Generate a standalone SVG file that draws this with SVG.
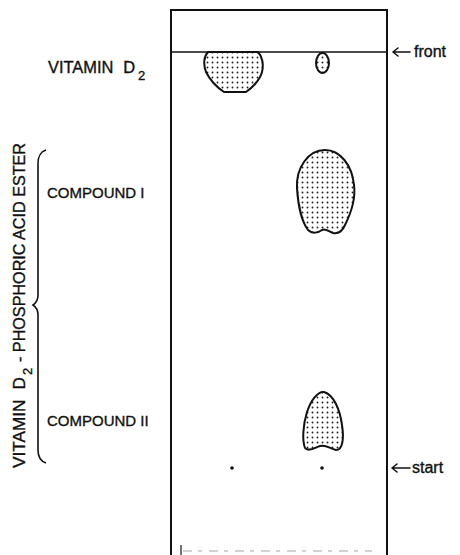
<svg xmlns="http://www.w3.org/2000/svg" width="460" height="555" viewBox="0 0 460 555">
<style>
text{font-family:"Liberation Sans","DejaVu Sans",sans-serif;fill:#111;stroke:#111;stroke-width:0.35;font-size:16px}
.cmp{font-size:15px}
.sub{font-size:13px}
.spot{fill:url(#stip);stroke:#111;stroke-width:2;stroke-linejoin:round}
.frame{fill:none;stroke:#111;stroke-width:2}
.arr{stroke:#111;stroke-width:1.6;fill:none;stroke-linecap:round;stroke-linejoin:round}
</style>
<defs>
<pattern id="stip" width="5" height="5" patternUnits="userSpaceOnUse">
<rect width="5" height="5" fill="#fff"/>
<circle cx="2.5" cy="2.5" r="0.95" fill="#222"/>
</pattern>
</defs>
<rect width="460" height="555" fill="#fff"/>
<g id="plate">
<path class="frame" d="M171,560 L171,10 L387,10 L387,560"/>
<line x1="171" y1="52" x2="387" y2="52" stroke="#111" stroke-width="1.5"/>
<line x1="183" y1="551" x2="372" y2="551" stroke="#c4c4c4" stroke-width="1.5" stroke-dasharray="9 6 4 7"/>
<line x1="181" y1="545" x2="181" y2="555" stroke="#444" stroke-width="1.5"/>
</g>
<g id="vitamin-d2">
<text x="48" y="73" textLength="87" lengthAdjust="spacingAndGlyphs" word-spacing="5">VITAMIN D</text>
<text class="sub" x="138" y="80">2</text>
<path class="spot" d="M208,52 L258,52 C262,56 264,64 262,72 C260,80 252,88 246,92 L224,92 C218,88 210,80 206,72 C203,64 204,56 208,52 Z"/>
<ellipse class="spot" cx="322.5" cy="63" rx="6.5" ry="10"/>
</g>
<g id="compound-1">
<text class="cmp" x="47" y="198">COMPOUND I</text>
<path class="spot" d="M325,150 C340,150 352,165 354,185 C356,200 350,215 345,225 C342,232 338,234 333,233 C329,232 326,228 322,230 C318,233 312,234 308,230 C302,222 298,205 297,188 C296,168 308,150 325,150 Z"/>
</g>
<g id="compound-2">
<text class="cmp" x="47" y="426">COMPOUND II</text>
<path class="spot" d="M324,392 C334,395 340,410 342,425 C344,438 343,450 336,450 C330,449 326,444 320,446 C314,448 308,452 305,448 C302,440 303,425 307,412 C311,400 318,391 324,392 Z"/>
</g>
<g id="ester-label">
<path d="M46,150 C40,152 38,156 38,164 L38,295 C38,300 36,303 33,305 C36,307 38,310 38,315 L38,450 C38,457 40,461 46,463" fill="none" stroke="#111" stroke-width="1.6"/>
<g transform="translate(25,468) rotate(-90)">
<text x="0" y="0" textLength="91" lengthAdjust="spacingAndGlyphs" word-spacing="5">VITAMIN D</text>
<text class="sub" x="93" y="7">2</text>
<text x="106" y="0" textLength="219" lengthAdjust="spacingAndGlyphs">- PHOSPHORIC ACID ESTER</text>
</g>
</g>
<g id="start-points">
<circle cx="232" cy="468" r="1.8" fill="#111"/>
<circle cx="322" cy="468" r="1.8" fill="#111"/>
</g>
<g id="connectors">
<path class="arr" d="M410,52 L393,52 M398,48 L393,52 L398,56"/>
<path class="arr" d="M410,468 L392,468 M397,464 L392,468 L397,472"/>
</g>
<g id="markers-text">
<text x="414" y="57">front</text>
<text x="412" y="473">start</text>
</g>
</svg>
